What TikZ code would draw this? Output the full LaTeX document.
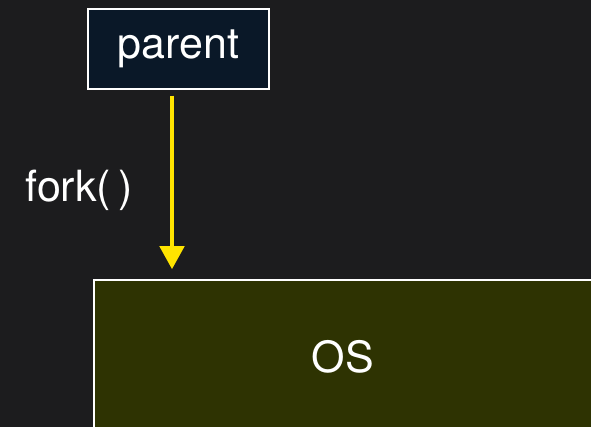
\documentclass[tikz,border=0pt]{standalone}
\usepackage{fontspec}
\setmainfont{TeX Gyre Heros}
\usetikzlibrary{arrows.meta,positioning}

\definecolor{bgdark}{RGB}{28,28,30}
\definecolor{parentfill}{RGB}{10,24,40}
\definecolor{osfill}{RGB}{46,51,2}
\definecolor{forkyellow}{RGB}{255,228,0}

\tikzset{
	procbox/.style={draw=white, line width=1.5pt, rectangle, text=white, align=center, font=\fontsize{43}{50}\selectfont},
	forkarrow/.style={-{Triangle[width=24pt,length=23pt]}, draw=forkyellow, line width=4.5pt},
}

\begin{document}
\begin{tikzpicture}[x=1pt,y=1pt]
		\fill[bgdark] (0,0) rectangle (591,427);
		\useasboundingbox (0,0) rectangle (591,427);

		\node[procbox, fill=parentfill, minimum width=181pt, minimum height=80pt] (parent) at (178.5,378) {parent};
		\node[procbox, fill=osfill, minimum width=498pt, minimum height=154pt] (os) at (343,70) {OS};

		\draw[forkarrow, shorten <=6pt, shorten >=10pt] ([xshift=-6.5pt]parent.south) -- ([xshift=-6.5pt]parent.south |- os.north)
			node[midway, left=37pt, inner sep=0pt, text=white, font=\fontsize{43}{50}\selectfont, yshift=-6pt] (fork) {fork(\,)};
	\end{tikzpicture}
\end{document}
